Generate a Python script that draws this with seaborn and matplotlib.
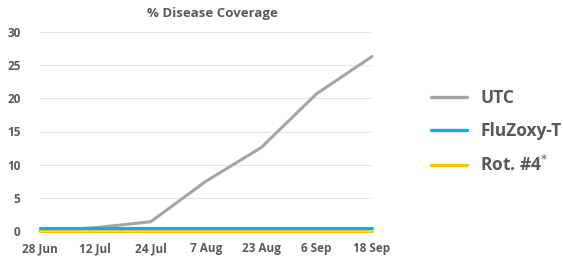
import pandas as pd
import matplotlib.pyplot as plt
import seaborn as sns

# Datos
fechas = ['28 Jun', '12 Jul', '24 Jul', '7 Aug', '23 Aug', '6 Sep', '18 Sep']
utc = [0.0, 0.5, 1.4, 7.5, 12.6, 20.7, 26.3]
fluzoxy = [0.4, 0.4, 0.4, 0.4, 0.4, 0.4, 0.4]
rot4 = [0.0, 0.0, 0.0, 0.0, 0.0, 0.0, 0.0]

series = ['UTC', 'FluZoxy-T', 'Rot. #4$^{*}$']
colores = ['#A5A5A5', '#00B0F0', '#FFC000']

df = pd.DataFrame({
    'Fecha': fechas * 3,
    'x': list(range(len(fechas))) * 3,
    'Valor': utc + fluzoxy + rot4,
    'Serie': [series[0]] * 7 + [series[1]] * 7 + [series[2]] * 7,
})

sns.set_style('white')
plt.rcParams['font.family'] = ['Open Sans', 'DejaVu Sans']
texto = '#595959'

fig = plt.figure(figsize=(5.63, 2.61), dpi=100)
ax = fig.add_axes([40 / 563, 1 - 231 / 261, 332 / 563, 199 / 261])

sns.lineplot(data=df, x='x', y='Valor', hue='Serie', palette=colores,
             linewidth=2.2, ax=ax, legend=False)
for ln in ax.get_lines():
    ln.set_clip_on(False)

ax.set_xlim(0, len(fechas) - 1)
ax.set_ylim(0, 30)
ax.set_xticks(range(len(fechas)))
ax.set_xticklabels(fechas)
ax.set_yticks([0, 5, 10, 15, 20, 25, 30])
ax.grid(axis='y', color='#E6E6E6', linewidth=0.8)
ax.set_axisbelow(True)
for s in ['top', 'right', 'left']:
    ax.spines[s].set_visible(False)
ax.spines['bottom'].set_color('#D9D9D9')
ax.tick_params(axis='x', length=4, color='#D9D9D9', colors=texto, labelsize=8.5, pad=4)
ax.tick_params(axis='y', length=0, colors=texto, labelsize=8.5, pad=14)
for lbl in ax.get_xticklabels() + ax.get_yticklabels():
    lbl.set_fontweight('bold')
ax.set_xlabel('')
ax.set_ylabel('')

fig.text(212 / 563, 1 - 14 / 261, '% Disease Coverage', ha='center', va='center',
         fontsize=9.5, fontweight='bold', color=texto)

# Leyenda
handles = [plt.Line2D([], [], color=c, linewidth=2.4) for c in colores]
leg = fig.legend(handles, series, loc='center left', bbox_to_anchor=(415 / 563, 1 - 132 / 261),
                 frameon=False, handlelength=2.1, handletextpad=0.75, labelspacing=0.85,
                 prop={'size': 12.5, 'weight': 'bold'})
for t in leg.get_texts():
    t.set_color(texto)

plt.savefig('out.png', dpi=100)
plt.close()
